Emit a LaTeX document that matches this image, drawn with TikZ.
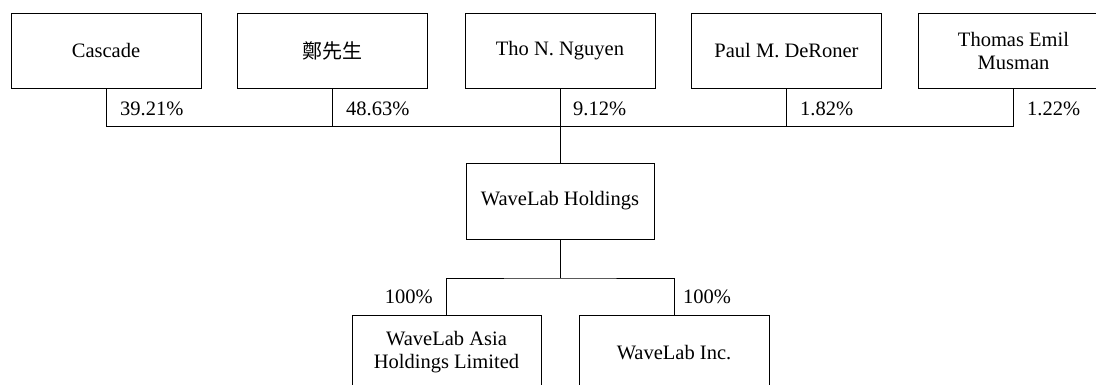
\documentclass[tikz,border=0pt]{standalone}
\usepackage{fontspec}
\setmainfont{Liberation Serif}
\newfontfamily\cjk{Noto Sans CJK TC}
\begin{document}
\begin{tikzpicture}[x=1pt,y=-1pt,
  every node/.style={font=\fontsize{20.5}{23}\selectfont},
  box/.style={draw,line width=0.9pt,minimum width=190pt,minimum height=75pt,inner sep=0pt,align=center},
  pct/.style={anchor=base west,inner sep=0pt},
  pctr/.style={anchor=base east,inner sep=0pt},
  link/.style={line width=0.9pt}]
\useasboundingbox (0,0) rectangle (1096,384);
\node[box] (cas) at (106,50.5) {Cascade};
\node[box] (zh) at (332.5,50.5) {{\cjk\fontsize{20}{23}\selectfont 鄭先生}};
\node[box] (tho) at (560,50.5) {Tho N. Nguyen};
\node[box] (pau) at (786.5,50.5) {Paul M. DeRoner};
\node[box] (tem) at (1013.5,50.5) {Thomas Emil\\Musman};
\coordinate (bar) at (560,126);
\draw[link] (cas.south) -- (cas.south |- bar) -- (tem.south |- bar) -- (tem.south);
\draw[link] (zh.south) -- (zh.south |- bar);
\draw[link] (pau.south) -- (pau.south |- bar);
\node[box,minimum width=188pt,minimum height=76pt] (hold) at (560,201) {WaveLab Holdings};
\draw[link] (tho.south) -- (hold.north);
\node[pct] (p1) at (120,115) {39.21\%};
\node[pct] (p2) at (346,115) {48.63\%};
\node[pct] (p3) at (573,115) {9.12\%};
\node[pct] (p4) at (800,115) {1.82\%};
\node[pct] (p5) at (1027,115) {1.22\%};
\node[box,minimum width=189pt] (asia) at (446.5,352.5) {WaveLab Asia\\Holdings Limited};
\node[box] (inc) at (674,352.5) {WaveLab Inc.};
\coordinate (bar2) at (560,278);
\draw[link] (hold.south) -- (bar2);
\draw[link] (asia.north) |- (bar2) -| (inc.north);
\node[pctr] (q1) at (433,303) {100\%};
\node[pct] (q2) at (683,303) {100\%};
\end{tikzpicture}
\end{document}
